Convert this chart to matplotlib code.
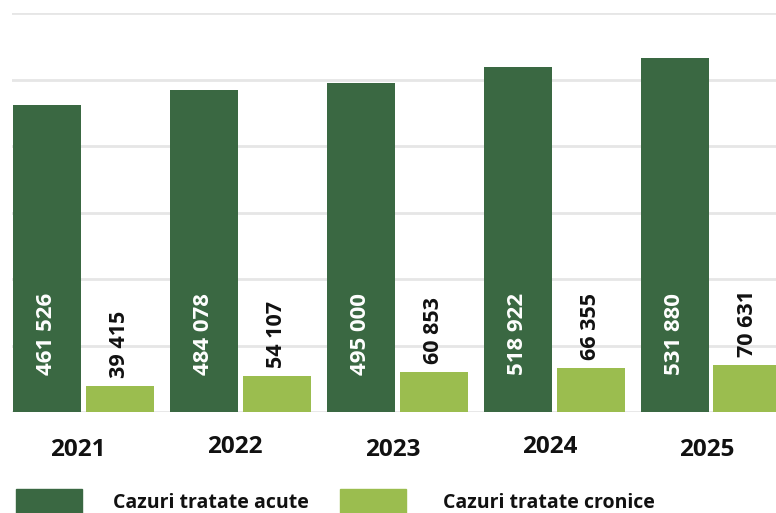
import numpy as np
import matplotlib.pyplot as plt
from matplotlib.patches import Rectangle

years = ['2021', '2022', '2023', '2024', '2025']
acute = [461526, 484078, 495000, 518922, 531880]
cronice = [39415, 54107, 60853, 66355, 70631]
legend_labels = ['Cazuri tratate acute', 'Cazuri tratate cronice']

dark = '#3a6842'
light = '#9bbd4f'

plt.rcParams['font.family'] = ['Open Sans', 'DejaVu Sans']


def fmt(v):
    # thousands separated by a space
    return '{:,}'.format(v).replace(',', ' ')


def main():
    fig = plt.figure(figsize=(7.76, 5.13), dpi=100)
    # axes in pixels: left 12, right 776, baseline 412, top 13
    ax = fig.add_axes([12 / 776, 101 / 513, 764 / 776, 399 / 513])

    x = np.arange(len(years))
    w = 68 / 157
    off = 36.5 / 157

    ax.bar(x - off, acute, width=w, color=dark, zorder=3)
    ax.bar(x + off, cronice, width=w, color=light, zorder=3)

    ax.set_xlim(-71 / 157, (776 - 83) / 157)
    ax.set_ylim(0, 600000)
    ax.set_yticks(np.arange(0, 600001, 100000))
    ax.grid(axis='y', color='#e6e6e6', linewidth=2, zorder=0)
    ax.set_xticks([])
    ax.tick_params(left=False, labelleft=False)
    for s in ax.spines.values():
        s.set_visible(False)

    for i in range(len(years)):
        ax.text(x[i] - off, 56000, fmt(acute[i]), rotation=90, ha='center', va='bottom',
                color='white', fontsize=16, fontweight='bold', zorder=4)
        ax.text(x[i] + off, cronice[i] + 12000, fmt(cronice[i]), rotation=90, ha='center',
                va='bottom', color='#111111', fontsize=15.5, fontweight='bold', zorder=4)
        # year labels are slightly staggered in the original
        yy = -57000 if i % 2 == 0 else -52000
        ax.text(x[i] - 0.03, yy, years[i], ha='center', va='center', fontsize=17.5,
                fontweight='bold', color='#111111', clip_on=False)

    # legend
    fig.patches.append(Rectangle((16 / 776, 0), 66 / 776, 24 / 513, transform=fig.transFigure,
                                 color=dark))
    fig.patches.append(Rectangle((340 / 776, 0), 66 / 776, 24 / 513, transform=fig.transFigure,
                                 color=light))
    fig.text(113 / 776, 10 / 513, legend_labels[0], ha='left', va='center', fontsize=14,
             fontweight='bold', color='#111111')
    fig.text(443 / 776, 10 / 513, legend_labels[1], ha='left', va='center', fontsize=14,
             fontweight='bold', color='#111111')

    fig.savefig('out.png', dpi=100)


if __name__ == '__main__':
    main()
